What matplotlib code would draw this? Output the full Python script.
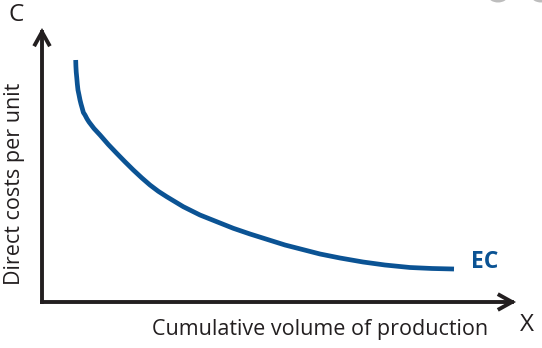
import matplotlib.pyplot as plt
from matplotlib.patches import Circle

# experience curve: direct cost per unit vs cumulative volume (axis units 0-100)
volume = [7.11, 7.15, 7.22, 7.34, 7.45, 7.59, 7.81, 8.02, 8.23, 8.44, 8.73,
          9.07, 9.49, 9.92, 10.97, 12.24, 13.99, 15.76, 17.51, 19.26, 21.03,
          22.78, 24.54, 26.31, 29.81, 33.33, 36.86, 40.36, 43.88, 51.27, 58.65,
          62.87, 67.72, 72.36, 77.64, 82.28, 86.92]
cost = [88.32, 86.13, 83.94, 81.75, 79.56, 77.37, 75.55, 73.72, 72.26, 70.99, 69.16,
        68.25, 66.86, 65.69, 63.32, 60.95, 57.48, 54.27, 51.17, 48.18, 45.33,
        42.70, 40.40, 38.43, 34.78, 31.75, 29.31, 26.90, 24.82, 20.80, 17.52,
        16.06, 14.60, 13.50, 12.59, 12.23, 12.04]

curve_label = "EC"
x_label = "Cumulative volume of production"
y_label = "Direct costs per unit"

blue = "#0b5394"
dark = "#231f20"
W, H = 542, 348

fig = plt.figure(figsize=(W / 100, H / 100), dpi=100)
ax = fig.add_axes([42 / W, (H - 302) / H, 474 / W, 274 / H])
ax.set_xlim(0, 100)
ax.set_ylim(0, 100)
ax.axis("off")

# axes drawn as arrows from the origin
for end in [(100, 0), (0, 100)]:
    ax.annotate("", xy=end, xytext=(0, 0),
                arrowprops=dict(arrowstyle="->,head_length=0.9,head_width=0.5",
                                color=dark, lw=2.8, shrinkA=0, shrinkB=0,
                                joinstyle="miter", capstyle="projecting"),
                annotation_clip=False)

ax.plot(volume, cost, color=blue, lw=3.4, solid_capstyle="butt",
        solid_joinstyle="round", clip_on=False)
ax.text(volume[-1] + 3.5, cost[-1] + 2.5, curve_label, color=blue, fontsize=16.5,
        fontweight="bold", family="Open Sans", ha="left", va="center")

fig.text(16 / W, 1 - 15 / H, "C", fontsize=17.5, family="Open Sans",
         ha="center", va="center", color=dark)
fig.text(527 / W, 1 - 325 / H, "X", fontsize=17.5, family="Open Sans",
         ha="center", va="center", color=dark)
fig.text(320 / W, 1 - 329 / H, x_label, fontsize=15.5, family="Open Sans",
         ha="center", va="center", color=dark)
fig.text(15 / W, 1 - 184 / H, y_label, fontsize=15.5, family="Open Sans",
         rotation=90, ha="center", va="center", color=dark)

# faint round shapes cut off at the top edge
for cx, r in [(498, 9), (541, 9)]:
    fig.patches.append(Circle((cx / W, 1 + 4 / H), r / W, transform=fig.transFigure,
                              color="#bdbdbd", zorder=0))

fig.savefig("out.png", dpi=100)
